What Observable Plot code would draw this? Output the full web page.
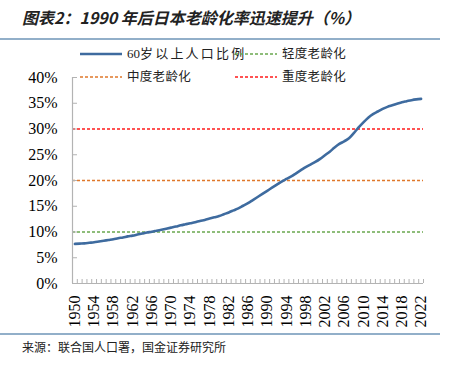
<!DOCTYPE html>
<html>
<head>
<meta charset="utf-8">
<script src="https://cdn.jsdelivr.net/npm/d3@7"></script>
<script src="https://cdn.jsdelivr.net/npm/@observablehq/plot@0.6"></script>
<style>
  html, body { margin: 0; padding: 0; background: #fff; }
  #wrap { position: relative; width: 450px; height: 365px; overflow: hidden; background: #fff; }
  #title { position: absolute; left: 22px; top: 6px; font-family: "Noto Sans CJK SC", sans-serif; font-weight: bold; font-style: italic; font-size: 16px; color: #222; white-space: nowrap; line-height: 22px; }
  .hr { position: absolute; left: 0; width: 440px; height: 1.5px; background: #92afc9; }
  #foot { position: absolute; left: 22px; top: 339px; font-family: "Noto Sans CJK SC", sans-serif; font-size: 12px; color: #222; white-space: nowrap; line-height: 16px; }
  #chart { position: absolute; left: 0; top: 0; }
  .leg { position: absolute; font-family: "Liberation Serif", "Noto Sans CJK SC", serif; font-size: 12.5px; color: #222; white-space: nowrap; line-height: 16px; }
  .sw { position: absolute; }
</style>
</head>
<body>
<div id="wrap">
  <div id="chart"></div>
  <div id="title"></div>
  <div class="hr" style="top:38px"></div>
  <div class="hr" style="top:333px"></div>
  <div id="foot"></div>
  <div id="legend"></div>
</div>
<script>
// ---- data ----
const years = d3.range(1950, 2023);
const share60 = [
  7.7, 7.75, 7.8, 7.9, 8.0, 8.15, 8.3, 8.45, 8.6, 8.8,
  8.95, 9.15, 9.3, 9.5, 9.7, 9.9, 10.05, 10.25, 10.45, 10.65,
  10.85, 11.05, 11.3, 11.5, 11.7, 11.9, 12.15, 12.35, 12.6, 12.85,
  13.1, 13.45, 13.8, 14.2, 14.6, 15.1, 15.6, 16.2, 16.8, 17.4,
  18.0, 18.6, 19.2, 19.8, 20.3, 20.8, 21.4, 22.0, 22.6, 23.1,
  23.6, 24.2, 24.9, 25.6, 26.4, 27.1, 27.6, 28.2, 29.2, 30.3,
  31.3, 32.2, 32.9, 33.4, 33.9, 34.3, 34.6, 34.9, 35.2, 35.4,
  35.6, 35.75, 35.85
];
const levelNames = ["轻度老龄化", "中度老龄化", "重度老龄化"];
const levelValues = [10, 20, 30];
const levelColors = ["#6aa84f", "#e0782a", "#ff1a1a"];
const seriesNum = "60";
const seriesWords = "岁以上人口比例";
const seriesColor = "#3e6b9f";
const yTicks = [0, 5, 10, 15, 20, 25, 30, 35, 40];
const xLabelYears = d3.range(1950, 2023, 4);
const titleText = "图表2：1990 年后日本老龄化率迅速提升（%）";
const sourceText = "来源：联合国人口署，国金证券研究所";

// ---- build ----
const data = years.map((y, i) => ({year: y, v: share60[i]}));
const levels = levelValues.map((v, i) => ({v, c: levelColors[i], name: levelNames[i]}));
const boundaries = d3.range(1949.5, 2023, 1);
const axisColor = "#b3b3b3";

const W = 450, H = 335, mL = 72, mR = 27, mT = 77, mB = 52;
const chart = Plot.plot({
  width: W, height: H,
  marginTop: mT, marginBottom: mB, marginLeft: mL, marginRight: mR,
  style: {fontFamily: "'Liberation Serif', 'Times New Roman', serif", fontSize: "16px", color: "#000", background: "transparent", overflow: "visible"},
  x: {domain: [1949.5, 2022.5]},
  y: {domain: [0, 40]},
  marks: [
    Plot.ruleY(levels, {y: "v", stroke: "c", strokeDasharray: "3,2", strokeWidth: 1.3}),
    Plot.ruleX([1949.5], {stroke: axisColor, strokeWidth: 1.2}),
    Plot.ruleY([0], {stroke: axisColor, strokeWidth: 1.2}),
    Plot.tickY(yTicks, {y: d => d, stroke: axisColor, insetRight: W - mL - mR - 5}),
    Plot.tickX(boundaries, {x: d => d, stroke: axisColor, insetTop: H - mT - mB - 4}),
    Plot.line(data, {x: "year", y: "v", stroke: seriesColor, strokeWidth: 2.6, curve: "monotone-x"}),
    Plot.axisY(yTicks, {tickSize: 0, tickPadding: 15, tickFormat: d => d + "%", fontSize: 16, label: null}),
    Plot.axisX(xLabelYears, {tickSize: 0, tickPadding: 12, tickRotate: -90, tickFormat: d => String(d), fontSize: 16, label: null})
  ]
});
document.getElementById("chart").appendChild(chart);
document.getElementById("title").textContent = titleText;
document.getElementById("foot").textContent = sourceText;

// ---- legend ----
const leg = document.getElementById("legend");
const legItems = [
  {num: seriesNum, name: seriesWords, color: seriesColor, dash: null, w: 2.6, x: 80, y: 54, ls: 2.2, fs: 13},
  {name: levelNames[0], color: levelColors[0], dash: "3,2", w: 1.3, x: 235, y: 54, ls: 0.3, fs: 12.5},
  {name: levelNames[1], color: levelColors[1], dash: "3,2", w: 1.3, x: 80, y: 77, ls: 0.3, fs: 12.5},
  {name: levelNames[2], color: levelColors[2], dash: "3,2", w: 1.3, x: 235, y: 77, ls: 0.3, fs: 12.5}
];
legItems.forEach(it => {
  const s = document.createElementNS("http://www.w3.org/2000/svg", "svg");
  s.setAttribute("class", "sw");
  s.setAttribute("width", 42); s.setAttribute("height", 6);
  s.style.left = it.x + "px"; s.style.top = (it.y - 3) + "px";
  const l = document.createElementNS("http://www.w3.org/2000/svg", "line");
  l.setAttribute("x1", 0); l.setAttribute("x2", 42); l.setAttribute("y1", 3); l.setAttribute("y2", 3);
  l.setAttribute("stroke", it.color); l.setAttribute("stroke-width", it.w);
  if (it.dash) l.setAttribute("stroke-dasharray", it.dash);
  s.appendChild(l);
  leg.appendChild(s);
  const t = document.createElement("div");
  t.className = "leg";
  t.style.fontSize = it.fs + "px";
  if (it.num) {
    const a = document.createElement("span");
    a.textContent = it.num;
    const b = document.createElement("span");
    b.textContent = it.name;
    b.style.letterSpacing = it.ls + "px";
    t.appendChild(a); t.appendChild(b);
  } else {
    t.textContent = it.name;
    t.style.letterSpacing = it.ls + "px";
  }
  t.style.left = (it.x + 47) + "px"; t.style.top = (it.y - 8) + "px";
  leg.appendChild(t);
});
</script>
</body>
</html>
